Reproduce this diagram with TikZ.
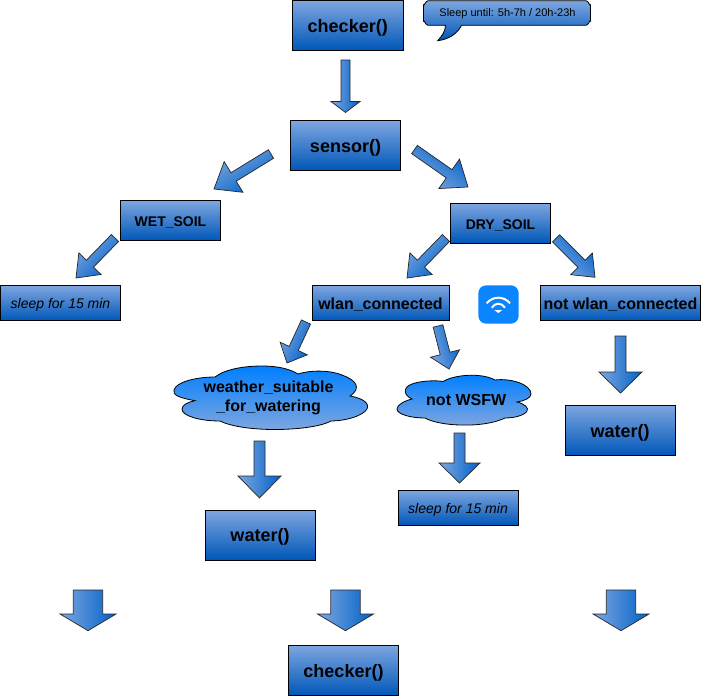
\documentclass[tikz,border=0pt]{standalone}
\usepackage{fontspec}
\setmainfont{Liberation Sans}
\usetikzlibrary{calc}
\definecolor{boxtop}{HTML}{7EA6E0}
\definecolor{boxbot}{HTML}{0057B8}
\definecolor{arrlight}{HTML}{7EA6E0}
\definecolor{arrdark}{HTML}{0062C8}
\definecolor{cloudtop}{HTML}{007FFF}
\definecolor{wifiblue}{HTML}{0A84FF}
\tikzset{
  x=1pt,y=-1pt,
  fbox/.style={draw=black,line width=0.9pt,top color=boxtop,bottom color=boxbot,inner sep=0pt,outer sep=0pt,anchor=north west,text depth=0pt},
  big/.style={font=\fontsize{18}{21}\selectfont\bfseries,text height=13.5pt},
  mid/.style={font=\fontsize{16}{19}\selectfont\bfseries,text height=12pt},
  small/.style={font=\fontsize{14}{16}\selectfont\bfseries,text height=12.5pt},
  note/.style={font=\fontsize{14}{16}\selectfont\itshape,text height=11.5pt},
  blockarrow/.style={draw=black!85,line width=0.7pt,line join=miter},
  cloudshape/.style={draw=black,line width=0.8pt,top color=cloudtop,bottom color=arrlight},
  cloudtext/.style={font=\fontsize{16}{19.5}\selectfont\bfseries,align=center,inner sep=0pt},
}
% start, tip, half shaft, half head, head length
\newcommand{\barrow}[5]{%
  \coordinate (A) at (#1);\coordinate (B) at (#2);
  \coordinate (N) at ($(B)!#5pt!(A)$);
  \pgfmathanglebetweenpoints{\pgfpointanchor{A}{center}}{\pgfpointanchor{B}{center}}%
  \pgfmathsetmacro\arrang{\pgfmathresult-180}%
  \path[blockarrow,top color=arrlight,bottom color=arrdark,shading angle=\arrang]
    ($(A)!#3pt!90:(B)$) -- ($(N)!#3pt!90:(B)$) -- ($(N)!#4pt!90:(B)$) -- (B)
    -- ($(N)!#4pt!-90:(B)$) -- ($(N)!#3pt!-90:(B)$) -- ($(A)!#3pt!-90:(B)$) -- cycle;}
\newcommand{\fbx}[7]{\node[fbox,#7,minimum width=#4pt,minimum height=#5pt] (#1) at (#2,#3) {#6};}
\begin{document}
\begin{tikzpicture}
\useasboundingbox (0,0) rectangle (701,696);
\fbx{chk}{292.5}{0.5}{110.5}{50}{checker()}{big}
\fbx{sen}{290.5}{120.5}{110}{50}{sensor()}{big}
\fbx{wet}{120.5}{200.5}{100}{40}{WET\_SOIL}{small}
\fbx{dry}{450.5}{203}{100}{40}{DRY\_SOIL}{small}
\fbx{sl1}{0.5}{285.5}{120}{35}{sleep for 15 min}{note}
\fbx{wlan}{312}{285.5}{137}{35}{wlan\_connected}{mid}
\fbx{nwl}{540.5}{285.5}{160}{35}{not wlan\_connected}{mid}
\fbx{wa1}{565}{405}{110}{50.5}{water()}{big}
\fbx{wa2}{205}{510}{110}{50}{water()}{big}
\fbx{sl2}{398}{490}{120}{35}{sleep for 15 min}{note}
\fbx{chk2}{288.5}{645}{110}{50.5}{checker()}{big}
% callout
\path[draw=black,line width=0.8pt,top color=boxtop,bottom color=boxbot]
  (428,0.7) -- (586,0.7) to[out=0,in=-90] (590.5,5) -- (590.5,21) to[out=90,in=0] (586,25.3)
  -- (461.5,25.3) .. controls (458,33) and (449,39.5) .. (437.7,40.7) .. controls (442,36) and (445.5,31) .. (445.5,25.3)
  -- (428,25.3) to[out=180,in=90] (423.5,21) -- (423.5,5) to[out=-90,in=180] (428,0.7) -- cycle;
\node[font=\fontsize{11}{13}\selectfont,inner sep=0pt] (cap) at (507.5,13.5) {Sleep until: 5h-7h / 20h-23h};
% arrows
\barrow{345.5,60}{345.5,112.5}{4.5}{14.5}{11}
\barrow{414.5,149.5}{468,187}{5}{18}{23}
\barrow{271,154}{214,189}{5}{18}{23}
\barrow{115,238}{76,278}{5}{15.5}{20}
\barrow{446,238}{407,278}{5}{15.5}{20}
\barrow{556,238.3}{595,277.3}{5}{15.3}{19}
\barrow{306,322}{287,363}{5}{15}{16}
\barrow{438,326}{449,369}{5}{15}{16}
\barrow{620.5,336}{620.5,393}{5.5}{21.5}{21}
\barrow{259.5,441}{259.5,498}{5.5}{21.5}{22}
\barrow{459.5,433}{459.5,483}{5.5}{20.5}{20}
\barrow{88,590}{88,630.7}{14.7}{28}{16.7}
\barrow{345.5,590}{345.5,630.7}{14.7}{28}{16.7}
\barrow{621,590}{621,630.7}{14.7}{28}{16.7}
% clouds
\path[cloudshape] (195,400.7) .. controls (180,398) and (172,395) .. (174,390) .. controls (176,382) and (196,377) .. (215,377)
  .. controls (225,369) and (245,366) .. (262,366) .. controls (278,366) and (290,369) .. (298,374)
  .. controls (310,370) and (330,370) .. (342,375) .. controls (356,380) and (362,388) .. (350,396)
  .. controls (362,398) and (370,403) .. (367,409) .. controls (363,416) and (345,421) .. (331,421)
  .. controls (320,427) and (295,429.5) .. (275,429.5) .. controls (250,429.5) and (230,426) .. (220,421)
  .. controls (200,421) and (182,416) .. (182,409) .. controls (182,405) and (188,402) .. (195,400.7) -- cycle;
\node[cloudtext] (wsfw) at (268.5,398) {weather\_suitable\\\_for\_watering};
\path[cloudshape] (412,399) .. controls (403,395) and (403,387) .. (412,384) .. controls (420,381) and (435,380) .. (443,381.5)
  .. controls (452,376) and (468,374.5) .. (478,375.5) .. controls (485,376) and (492,378) .. (495,380)
  .. controls (510,378) and (531,384) .. (531,394) .. controls (531,398) and (524,401) .. (517,402)
  .. controls (525,404) and (529,408) .. (527,411) .. controls (525,415) and (515,418) .. (505,418)
  .. controls (495,423) and (478,425.5) .. (462,425) .. controls (447,425) and (432,422) .. (425,418)
  .. controls (410,418) and (397,414) .. (397,409) .. controls (397,405) and (404,401) .. (412,399) -- cycle;
\node[cloudtext] (nw) at (466.2,400) {not WSFW};
% wifi icon
\node[fill=wifiblue,rounded corners=8pt,minimum width=40.4pt,minimum height=38.4pt,inner sep=0pt,outer sep=0pt,anchor=north west] (wifi) at (478.3,285.3) {};
\draw[white,line width=2pt] (486.7,303.3) .. controls (493,295.8) and (503.7,295.8) .. (510,303.3);
\draw[white,line width=2pt] (491.7,307.7) .. controls (495,302.4) and (501.7,302.4) .. (505,307.7);
\fill[white] (494.3,310) -- (502.3,310) -- (498.3,313) -- cycle;
\end{tikzpicture}
\end{document}
